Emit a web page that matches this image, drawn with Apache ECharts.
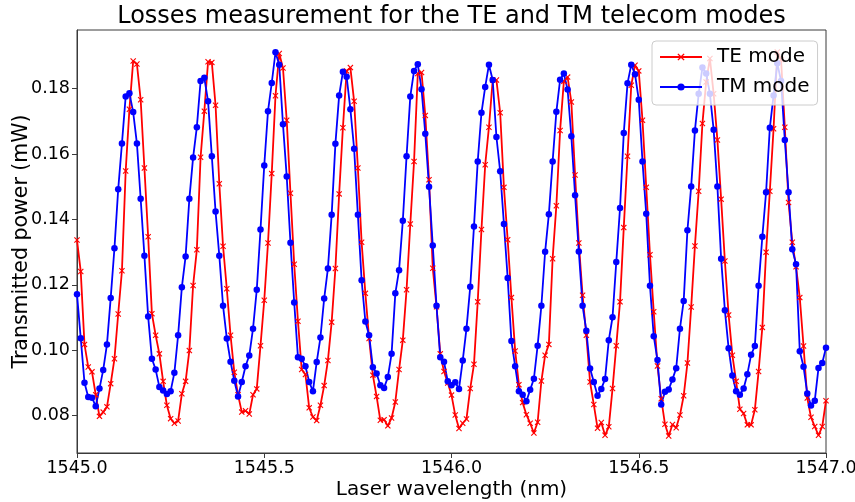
<!DOCTYPE html>
<html>
<head>
<meta charset="utf-8">
<script src="https://cdn.jsdelivr.net/npm/echarts@6/dist/echarts.min.js"></script>
<style>
  html, body { margin: 0; padding: 0; background: #fff; }
  #chart { width: 855px; height: 502px; }
</style>
</head>
<body>
<div id="chart"></div>
<script>
// Wavelength sweep: one sample every 10 pm from 1545.00 nm
const wavelengthStart = 1545.0;
const wavelengthStep = 0.01;

// Transmitted power (mW), TE polarisation
const teValues = [
  0.1337, 0.1241, 0.1018, 0.0949, 0.0934, 0.0864, 0.0798, 0.0811, 0.0827, 0.0898,
  0.0974, 0.1111, 0.1243, 0.1548, 0.1737, 0.1884, 0.1875, 0.1766, 0.1557, 0.1347,
  0.1112, 0.1046, 0.0989, 0.0905, 0.0832, 0.0791, 0.0777, 0.0784, 0.0867, 0.0905,
  0.0999, 0.1198, 0.1307, 0.1590, 0.1731, 0.1882, 0.1880, 0.1749, 0.1509, 0.1318,
  0.1188, 0.1046, 0.0933, 0.0864, 0.0811, 0.0815, 0.0805, 0.0864, 0.0882, 0.1014,
  0.1153, 0.1328, 0.1540, 0.1778, 0.1907, 0.1863, 0.1703, 0.1480, 0.1263, 0.1089,
  0.0941, 0.0926, 0.0824, 0.0796, 0.0785, 0.0832, 0.0892, 0.0969, 0.1086, 0.1250,
  0.1478, 0.1680, 0.1854, 0.1864, 0.1761, 0.1557, 0.1330, 0.1174, 0.1036, 0.0924,
  0.0859, 0.0786, 0.0788, 0.0769, 0.0793, 0.0842, 0.0941, 0.1031, 0.1185, 0.1386,
  0.1577, 0.1846, 0.1849, 0.1718, 0.1521, 0.1251, 0.1133, 0.0989, 0.0935, 0.0900,
  0.0863, 0.0802, 0.0761, 0.0777, 0.0790, 0.0883, 0.0957, 0.1148, 0.1369, 0.1567,
  0.1682, 0.1826, 0.1826, 0.1726, 0.1498, 0.1338, 0.1161, 0.0998, 0.0895, 0.0840,
  0.0803, 0.0777, 0.0747, 0.0780, 0.0906, 0.0985, 0.1018, 0.1280, 0.1442, 0.1672,
  0.1822, 0.1835, 0.1759, 0.1536, 0.1328, 0.1168, 0.1046, 0.0903, 0.0834, 0.0762,
  0.0779, 0.0740, 0.0766, 0.0883, 0.1014, 0.1148, 0.1375, 0.1593, 0.1810, 0.1871,
  0.1854, 0.1703, 0.1498, 0.1292, 0.1118, 0.0952, 0.0852, 0.0774, 0.0738, 0.0773,
  0.0763, 0.0802, 0.0861, 0.0961, 0.1132, 0.1319, 0.1486, 0.1693, 0.1820, 0.1892,
  0.1784, 0.1643, 0.1462, 0.1273, 0.1108, 0.0985, 0.0905, 0.0820, 0.0807, 0.0772,
  0.0772, 0.0818, 0.0935, 0.1070, 0.1300, 0.1486, 0.1677, 0.1912, 0.1889, 0.1682,
  0.1452, 0.1330, 0.1255, 0.1161, 0.1013, 0.0854, 0.0795, 0.0767, 0.0740, 0.0767,
  0.0846
];

// Transmitted power (mW), TM polarisation
const tmValues = [
  0.1171, 0.1037, 0.0901, 0.0857, 0.0855, 0.0829, 0.0883, 0.0940, 0.1018, 0.1160,
  0.1312, 0.1492, 0.1632, 0.1776, 0.1786, 0.1728, 0.1632, 0.1463, 0.1289, 0.1103,
  0.0974, 0.0941, 0.0888, 0.0877, 0.0866, 0.0875, 0.0931, 0.1046, 0.1193, 0.1287,
  0.1463, 0.1589, 0.1682, 0.1823, 0.1833, 0.1761, 0.1593, 0.1424, 0.1289, 0.1136,
  0.1036, 0.0965, 0.0907, 0.0859, 0.0903, 0.0951, 0.0984, 0.1066, 0.1185, 0.1369,
  0.1565, 0.1731, 0.1817, 0.1911, 0.1873, 0.1691, 0.1531, 0.1329, 0.1146, 0.0979,
  0.0974, 0.0951, 0.0903, 0.0875, 0.0964, 0.1039, 0.1158, 0.1250, 0.1414, 0.1631,
  0.1779, 0.1851, 0.1836, 0.1737, 0.1616, 0.1414, 0.1214, 0.1088, 0.1046, 0.0948,
  0.0929, 0.0893, 0.0885, 0.0918, 0.0989, 0.1174, 0.1245, 0.1396, 0.1593, 0.1776,
  0.1854, 0.1874, 0.1798, 0.1662, 0.1500, 0.1320, 0.1136, 0.0979, 0.0965, 0.0905,
  0.0893, 0.0902, 0.0882, 0.0969, 0.1066, 0.1194, 0.1378, 0.1577, 0.1726, 0.1805,
  0.1873, 0.1826, 0.1652, 0.1547, 0.1386, 0.1221, 0.1028, 0.0951, 0.0875, 0.0864,
  0.0844, 0.0879, 0.0913, 0.1014, 0.1136, 0.1301, 0.1416, 0.1577, 0.1729, 0.1827,
  0.1846, 0.1797, 0.1654, 0.1474, 0.1302, 0.1136, 0.1060, 0.0944, 0.0903, 0.0861,
  0.0882, 0.0912, 0.1031, 0.1101, 0.1270, 0.1435, 0.1664, 0.1816, 0.1873, 0.1844,
  0.1766, 0.1577, 0.1417, 0.1197, 0.1043, 0.0970, 0.0834, 0.0873, 0.0880, 0.0911,
  0.0945, 0.1066, 0.1151, 0.1367, 0.1501, 0.1672, 0.1784, 0.1864, 0.1846, 0.1784,
  0.1674, 0.1501, 0.1280, 0.1122, 0.1006, 0.0923, 0.0875, 0.0864, 0.0883, 0.0927,
  0.0986, 0.1013, 0.1197, 0.1347, 0.1483, 0.1680, 0.1779, 0.1877, 0.1823, 0.1643,
  0.1483, 0.1309, 0.1263, 0.0997, 0.0950, 0.0868, 0.0831, 0.0846, 0.0946, 0.0961,
  0.1008
];

const xTicks = [1545.0, 1545.5, 1546.0, 1546.5, 1547.0];
const yTicks = [0.08, 0.10, 0.12, 0.14, 0.16, 0.18];

const wavelengths = teValues.map((_, i) => +(wavelengthStart + i * wavelengthStep).toFixed(2));
const teData = teValues.map((v, i) => [wavelengths[i], v]);
const tmData = tmValues.map((v, i) => [wavelengths[i], v]);

const FONT = 'DejaVu Sans';
const SPINE = '#3a3a3a';
// thin "x" cross marker
const crossSymbol = 'path://M0,1.3L1.3,0L5,3.7L8.7,0L10,1.3L6.3,5L10,8.7L8.7,10L5,6.3L1.3,10L0,8.7L3.7,5Z';

const chart = echarts.init(document.getElementById('chart'), null, { renderer: 'canvas' });
chart.setOption({
  animation: false,
  backgroundColor: '#ffffff',
  title: {
    text: 'Losses measurement for the TE and TM telecom modes',
    left: 451.5,
    textAlign: 'center',
    top: 5,
    padding: 0,
    textStyle: { fontFamily: FONT, fontSize: 24, fontWeight: 'normal', color: '#000' }
  },
  grid: {
    left: 77, right: 29, top: 30, bottom: 49,
    containLabel: false,
    outerBoundsMode: 'none',
    show: true, borderColor: SPINE, borderWidth: 1, backgroundColor: 'transparent'
  },
  legend: {
    orient: 'vertical',
    left: 652, top: 41,
    padding: [6, 8, 8, 7],
    itemWidth: 42, itemHeight: 9, itemGap: 10,
    backgroundColor: 'rgba(255,255,255,0.8)',
    borderColor: '#cccccc', borderWidth: 1, borderRadius: 4,
    textStyle: { fontFamily: FONT, fontSize: 20, color: '#000', padding: [0, 0, 0, 10] },
    data: ['TE mode', 'TM mode']
  },
  xAxis: {
    type: 'value',
    min: 1545, max: 1547,
    name: 'Laser wavelength (nm)',
    nameLocation: 'middle', nameGap: 27,
    nameMoveOverlap: false,
    nameTextStyle: { fontFamily: FONT, fontSize: 20, color: '#000' },
    axisLine: { onZero: false, lineStyle: { color: SPINE, width: 1 } },
    axisTick: { customValues: xTicks, length: 5, lineStyle: { color: SPINE } },
    axisLabel: {
      customValues: xTicks, margin: 6,
      fontFamily: FONT, fontSize: 17.5, color: '#000',
      formatter: v => v.toFixed(1)
    },
    splitLine: { show: false }
  },
  yAxis: {
    type: 'value',
    min: 0.0686, max: 0.1979,
    name: 'Transmitted power (mW)',
    nameLocation: 'middle', nameGap: 45,
    nameMoveOverlap: false,
    nameTextStyle: { fontFamily: FONT, fontSize: 20.5, color: '#000' },
    axisLine: { onZero: false, lineStyle: { color: SPINE, width: 1 } },
    axisTick: { customValues: yTicks, length: 5, lineStyle: { color: SPINE } },
    axisLabel: {
      customValues: yTicks, margin: 7,
      fontFamily: FONT, fontSize: 17.5, color: '#000',
      formatter: v => v.toFixed(2)
    },
    splitLine: { show: false }
  },
  series: [
    {
      name: 'TE mode',
      type: 'line',
      data: teData,
      symbol: crossSymbol,
      symbolSize: 6,
      showAllSymbol: true,
      lineStyle: { color: '#ff0000', width: 1.8 },
      itemStyle: { color: '#ff0000' }
    },
    {
      name: 'TM mode',
      type: 'line',
      data: tmData,
      symbol: 'circle',
      symbolSize: 6.5,
      showAllSymbol: true,
      lineStyle: { color: '#0000ff', width: 1.8 },
      itemStyle: { color: '#0000ff' }
    }
  ]
});
</script>
</body>
</html>
